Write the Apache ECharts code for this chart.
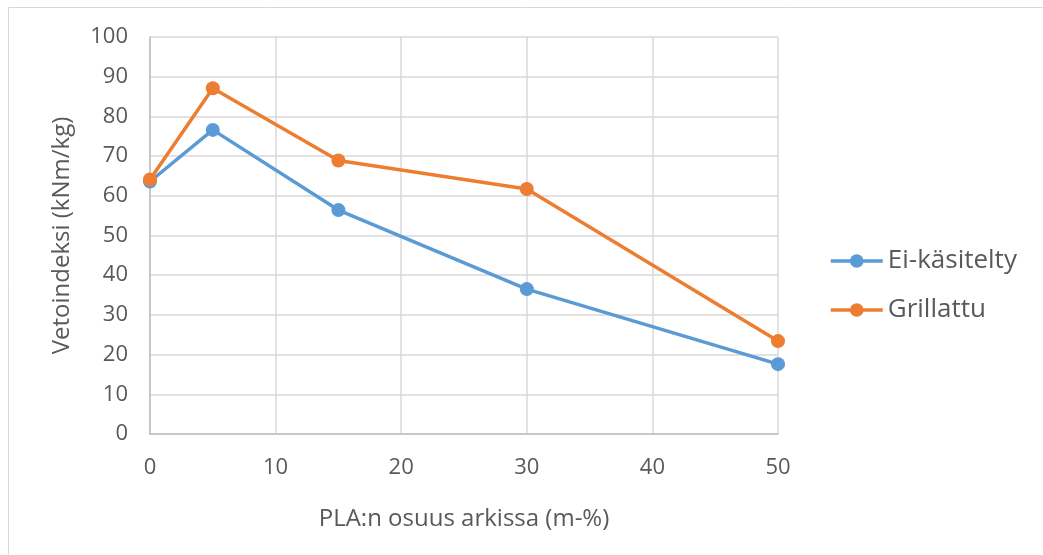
<!DOCTYPE html>
<html>
<head>
<meta charset="utf-8">
<script src="https://cdn.jsdelivr.net/npm/echarts@6/dist/echarts.min.js"></script>
<style>html,body{margin:0;padding:0;background:#fff}#c{width:1043px;height:555px}</style>
</head>
<body>
<div id="c"></div>
<script>
const xValues = [0, 5, 15, 30, 50];
const eiKasitelty = [63.6, 76.6, 56.4, 36.5, 17.6];
const grillattu = [64.1, 87.1, 68.9, 61.7, 23.4];
const seriesNames = ['Ei-käsitelty', 'Grillattu'];
const xTicks = [0, 10, 20, 30, 40, 50];
const yTicks = [0, 10, 20, 30, 40, 50, 60, 70, 80, 90, 100];

const font = '"Open Sans", sans-serif';
const pairs = arr => xValues.map((x, i) => [x, arr[i]]);

const chart = echarts.init(document.getElementById('c'));
chart.setOption({
  animation: false,
  backgroundColor: '#fff',
  graphic: [{
    type: 'rect', shape: {x: 8.5, y: 7.5, width: 1200, height: 700},
    style: {fill: 'none', stroke: '#d9d9d9', lineWidth: 1}, silent: true
  }],
  grid: {left: 150, right: 265, top: 37, bottom: 121},
  legend: {
    orient: 'vertical', left: 824, top: 243, itemGap: 23,
    itemWidth: 52, itemHeight: 17,
    lineStyle: {width: 3.5},
    textStyle: {fontFamily: font, fontSize: 26, color: '#595959'},
    data: seriesNames
  },
  xAxis: {
    type: 'value', min: xTicks[0], max: xTicks[xTicks.length - 1], interval: 10,
    name: 'PLA:n osuus arkissa (m-%)', nameLocation: 'middle', nameGap: 73,
    nameTextStyle: {fontFamily: font, fontSize: 24, color: '#595959'},
    axisLine: {lineStyle: {color: '#bfbfbf', width: 1.5}},
    axisTick: {show: false},
    axisLabel: {fontFamily: font, fontSize: 22, color: '#595959', margin: 23},
    splitLine: {lineStyle: {color: '#d9d9d9', width: 1.5}}
  },
  yAxis: {
    type: 'value', min: yTicks[0], max: yTicks[yTicks.length - 1], interval: 10,
    name: 'Vetoindeksi (kNm/kg)', nameLocation: 'middle', nameGap: 76,
    nameTextStyle: {fontFamily: font, fontSize: 24, color: '#595959'},
    axisLine: {show: true, lineStyle: {color: '#bfbfbf', width: 1.5}},
    axisTick: {show: false},
    axisLabel: {fontFamily: font, fontSize: 22, color: '#595959', margin: 22},
    splitLine: {lineStyle: {color: '#d9d9d9', width: 1.5}}
  },
  series: [
    {name: seriesNames[0], type: 'line', data: pairs(eiKasitelty),
     symbol: 'circle', symbolSize: 14, color: '#5b9bd5',
     lineStyle: {width: 3.5, color: '#5b9bd5'}, itemStyle: {color: '#5b9bd5'}},
    {name: seriesNames[1], type: 'line', data: pairs(grillattu),
     symbol: 'circle', symbolSize: 14, color: '#ed7d31',
     lineStyle: {width: 3.5, color: '#ed7d31'}, itemStyle: {color: '#ed7d31'}}
  ]
});
</script>
</body>
</html>
